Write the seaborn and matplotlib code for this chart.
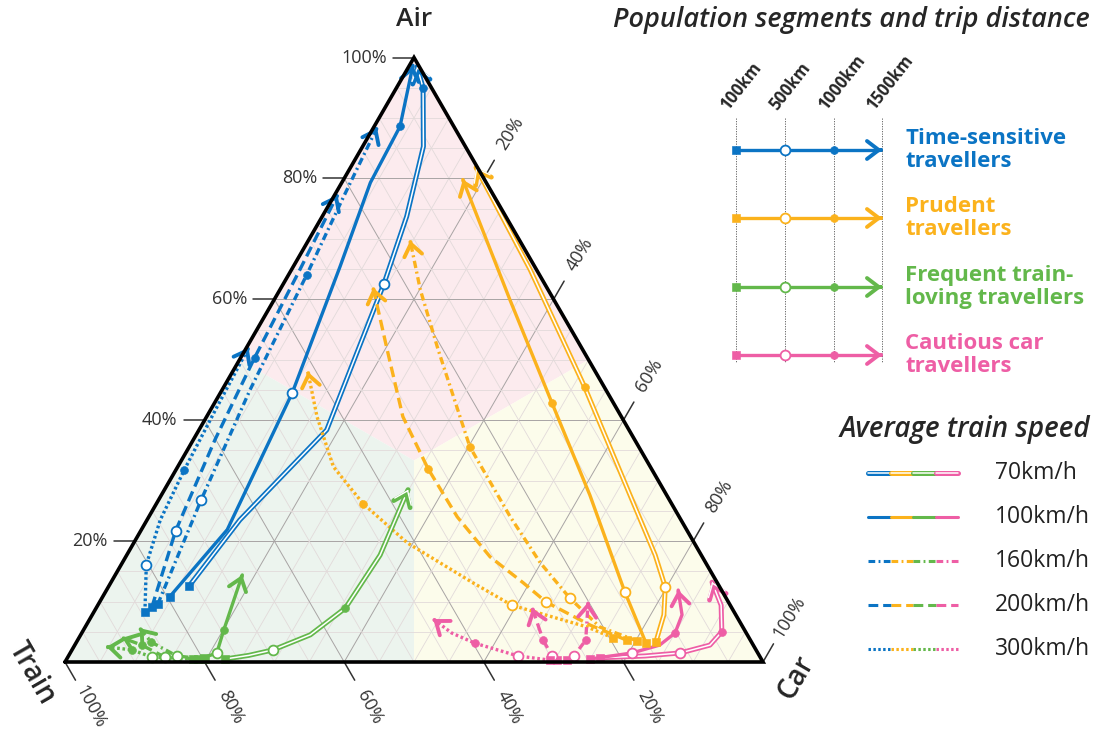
import numpy as np
import matplotlib
matplotlib.use('Agg')
import matplotlib.pyplot as plt
import seaborn as sns
from matplotlib.patches import Polygon

sns.set_theme(style='white')
plt.rcParams['font.family'] = ['Open Sans', 'DejaVu Sans']

seg_names = ['Time-sensitive\ntravellers', 'Prudent\ntravellers',
             'Frequent train-\nloving travellers', 'Cautious car\ntravellers']
seg_colors = ['#0b74c4', '#fbb21c', '#63b84b', '#ee5ea5']
speeds = ['70km/h', '100km/h', '160km/h', '200km/h', '300km/h']
distances = ['100km', '500km', '1000km', '1500km']
ticks = [20, 40, 60, 80, 100]

# paths as (air %, car %), from 100km to 1500km
# *_marks = (index of 500km point, index of 1000km point)
blue_70 = [(12.6, 11.5), (23.5, 13.3), (38.4, 18.3), (62.6, 14.4), (73.7, 12.1), (85.3, 8.7), (95.0, 3.8), (98.5, 1.2)]
blue_70_marks = (3, 6)
blue_100 = [(10.8, 9.6), (21.9, 12.3), (44.5, 10.3), (65.4, 6.7), (79.3, 4.1), (88.6, 3.7), (98.7, 0.5)]
blue_100_marks = (2, 5)
blue_160 = [(9.6, 8.5), (26.8, 6.1), (45.0, 4.0), (64.1, 2.6), (77.3, 1.4), (88.4, 0.5)]
blue_160_marks = (1, 3)
blue_200 = [(9.1, 7.9), (21.7, 5.0), (36.8, 3.1), (50.3, 2.0), (64.9, 1.2), (77.3, 0.4)]
blue_200_marks = (1, 3)
blue_300 = [(8.3, 7.3), (16.1, 3.6), (23.5, 1.9), (31.8, 1.2), (41.7, 0.7), (52.0, 0.3)]
blue_300_marks = (1, 3)

yellow_70 = [(3.3, 83.0), (7.8, 81.9), (12.4, 79.8), (17.7, 75.7), (45.5, 51.7), (64.9, 34.2), (81.8, 18.0)]
yellow_70_marks = (2, 4)
yellow_100 = [(3.1, 81.7), (11.6, 74.4), (27.6, 61.4), (42.9, 48.3), (59.9, 33.8), (79.8, 17.1)]
yellow_100_marks = (1, 3)
yellow_160 = [(3.5, 80.2), (5.8, 73.7), (10.6, 67.0), (16.4, 59.9), (24.0, 51.8), (35.6, 40.2), (51.7, 27.6), (61.6, 20.1), (69.7, 14.6)]
yellow_160_marks = (2, 5)
yellow_200 = [(3.6, 78.7), (6.1, 72.2), (9.9, 64.0), (13.1, 59.1), (17.4, 52.2), (24.0, 44.2), (32.0, 36.0), (40.6, 28.1), (51.7, 20.3), (61.9, 13.2)]
yellow_200_marks = (2, 6)
yellow_300 = [(4.0, 76.5), (5.8, 71.9), (9.4, 59.3), (13.1, 51.9), (19.7, 39.2), (26.2, 29.6), (32.3, 22.3), (40.6, 15.8), (48.0, 10.8)]
yellow_300_marks = (2, 5)

green_70 = [(0.5, 22.7), (1.1, 25.8), (2.0, 28.8), (4.5, 32.9), (8.9, 35.7), (17.7, 36.3), (28.5, 34.9)]
green_70_marks = (2, 4)
green_100 = [(0.7, 19.5), (1.5, 21.0), (5.3, 20.1), (14.4, 18.2)]
green_100_marks = (1, 2)
green_160 = [(0.5, 19.8), (1.0, 15.5), (3.3, 10.7), (5.6, 7.9)]
green_160_marks = (1, 2)
green_200 = [(0.5, 18.8), (0.8, 13.9), (2.8, 9.6), (4.0, 6.2)]
green_200_marks = (1, 2)
green_300 = [(0.5, 18.1), (0.8, 12.1), (2.0, 8.6), (2.5, 4.7)]
green_300_marks = (1, 2)

pink_70 = [(0.7, 76.3), (1.0, 82.6), (1.5, 87.4), (2.8, 91.0), (5.0, 91.6), (9.4, 89.3), (13.2, 86.1)]
pink_70_marks = (2, 4)
pink_100 = [(0.5, 75.0), (1.5, 80.5), (2.8, 83.8), (4.8, 85.0), (7.8, 84.5), (11.9, 81.9)]
pink_100_marks = (1, 3)
pink_160 = [(0.3, 71.8), (1.0, 72.4), (3.6, 72.8), (9.9, 70.0)]
pink_160_marks = (1, 2)
pink_200 = [(0.3, 70.4), (1.0, 69.3), (3.6, 66.7), (8.9, 62.5)]
pink_200_marks = (1, 2)
pink_300 = [(0.3, 69.4), (1.0, 64.4), (3.1, 57.2), (4.8, 53.0), (7.1, 49.2)]
pink_300_marks = (1, 2)

paths = [
    (0, 0, blue_70, blue_70_marks), (0, 1, blue_100, blue_100_marks), (0, 2, blue_160, blue_160_marks),
    (0, 3, blue_200, blue_200_marks), (0, 4, blue_300, blue_300_marks),
    (1, 0, yellow_70, yellow_70_marks), (1, 1, yellow_100, yellow_100_marks), (1, 2, yellow_160, yellow_160_marks),
    (1, 3, yellow_200, yellow_200_marks), (1, 4, yellow_300, yellow_300_marks),
    (2, 0, green_70, green_70_marks), (2, 1, green_100, green_100_marks), (2, 2, green_160, green_160_marks),
    (2, 3, green_200, green_200_marks), (2, 4, green_300, green_300_marks),
    (3, 0, pink_70, pink_70_marks), (3, 1, pink_100, pink_100_marks), (3, 2, pink_160, pink_160_marks),
    (3, 3, pink_200, pink_200_marks), (3, 4, pink_300, pink_300_marks),
]

styles = ['-', '-', (0, (2.2, 1.1, 0.6, 1.1)), (0, (3.2, 1.6)), (0, (0.8, 0.8))]
sq3 = np.sqrt(3) / 2
S = 698.0  # pixels per unit


def to_xy(air, car):
    air = np.asarray(air, dtype=float) / 100
    car = np.asarray(car, dtype=float) / 100
    return car + air / 2, air * sq3


def P(px, py):
    return (px - 65) / S, (662 - py) / S


def line(ax, x, y, color, k, lw=2.4, z=4):
    if k == 0:
        sns.lineplot(x=x, y=y, sort=False, estimator=None, color=color, lw=3.6, ax=ax, zorder=z)
        sns.lineplot(x=x, y=y, sort=False, estimator=None, color='white', lw=1.1, ax=ax, zorder=z)
    else:
        sns.lineplot(x=x, y=y, sort=False, estimator=None, color=color, lw=lw, linestyle=styles[k], ax=ax, zorder=z)


def arrow(ax, x0, y0, x1, y1, color, k):
    d = np.array([x1 - x0, y1 - y0])
    d = d / np.hypot(*d) * 0.002
    props = dict(arrowstyle='->,head_length=0.5,head_width=0.38', color=color, mutation_scale=17,
                 lw=3.4 if k == 0 else 2.8, shrinkA=0, shrinkB=0)
    ax.annotate('', xy=(x1, y1), xytext=(x1 - d[0], y1 - d[1]), arrowprops=props, zorder=6)
    if k == 0:
        props = dict(props, color='white', lw=1.0)
        ax.annotate('', xy=(x1, y1), xytext=(x1 - d[0], y1 - d[1]), arrowprops=props, zorder=6)


def marks(ax, xs, ys, color, z=7):
    sns.scatterplot(x=[xs[0]], y=[ys[0]], marker='s', s=30, color=color, edgecolor=color, ax=ax, zorder=z)
    sns.scatterplot(x=[xs[1]], y=[ys[1]], marker='o', s=50, color='white', edgecolor=color, linewidth=1.3, ax=ax, zorder=z)
    sns.scatterplot(x=[xs[2]], y=[ys[2]], marker='o', s=32, color=color, edgecolor=color, ax=ax, zorder=z)


fig = plt.figure(figsize=(11, 7.36), dpi=100)
ax = fig.add_axes([0, 0, 1, 1])
ax.set_xlim(-65 / S, 1035 / S)
ax.set_ylim(-74 / S, 662 / S)
ax.axis('off')

# background regions (largest share)
cen = (0.5, sq3 / 3)
mid_l, mid_r, mid_b = (0.25, sq3 / 2), (0.75, sq3 / 2), (0.5, 0)
ax.add_patch(Polygon([(0.5, sq3), mid_r, cen, mid_l], color='#fcebee', lw=0, zorder=0))
ax.add_patch(Polygon([(0, 0), mid_l, cen, mid_b], color='#ecf4ee', lw=0, zorder=0))
ax.add_patch(Polygon([(1, 0), mid_b, cen, mid_r], color='#fcfceb', lw=0, zorder=0))

# grid
for v in np.arange(5, 100, 5):
    major = v % 20 == 0
    c, w = ('#a8a4a4', 0.7) if major else ('#e2dada', 0.6)
    for a, b in [((v, 0), (v, 100 - v)), ((0, v), (100 - v, v)), ((0, 100 - v), (100 - v, 0))]:
        x, y = to_xy([a[0], b[0]], [a[1], b[1]])
        ax.plot(x, y, color=c, lw=w, zorder=1)

ax.plot([0, 1, 0.5, 0], [0, 0, sq3, 0], color='black', lw=2.6, zorder=8, solid_joinstyle='miter')

# ticks
tk = 21 / S
for t in ticks:
    v = t / 100
    # air (left)
    x, y = v / 2, v * sq3
    ax.plot([x, x - tk], [y, y], color='#333333', lw=1.1)
    ax.text(x - tk - 6 / S, y, f'{t}%', ha='right', va='center', fontsize=13, color='#333333')
    # car (right)
    x, y = v + (1 - v) / 2, (1 - v) * sq3
    ax.plot([x, x + tk * 0.5], [y, y + tk * sq3], color='#333333', lw=1.1)
    ax.text(x + 0.5 * 52 / S, y + sq3 * 52 / S, f'{t}%', ha='center', va='center', rotation=58,
            fontsize=13, color='#333333')
    # train (bottom)
    x, y = 1 - v, 0
    ax.plot([x, x + tk * 0.5], [y, y - tk * sq3], color='#333333', lw=1.1)
    ax.text(x + 0.5 * 52 / S, y - sq3 * 52 / S, f'{t}%', ha='center', va='center', rotation=-62,
            fontsize=13, color='#333333')

ax.text(*P(414, 20), 'Air', ha='center', va='center', fontsize=19, fontweight='semibold')
ax.text(*P(32, 673), 'Train', ha='center', va='center', fontsize=20, fontweight='semibold', rotation=-60)
ax.text(*P(796, 678), 'Car', ha='center', va='center', fontsize=20, fontweight='semibold', rotation=60)

# trajectories
for j, k, pts, (io, iff) in paths:
    xs, ys = to_xy([p[0] for p in pts], [p[1] for p in pts])
    c = seg_colors[j]
    line(ax, xs, ys, c, k)
    arrow(ax, xs[-2], ys[-2], xs[-1], ys[-1], c, k)
    marks(ax, [xs[0], xs[io], xs[iff]], [ys[0], ys[io], ys[iff]], c)

# legend: segments and distance
ax.text(*P(1090, 20), 'Population segments and trip distance', ha='right', va='center',
        fontsize=19.5, style='italic', fontweight='semibold')
lx = [736, 785, 834, 882]
row_y = [150, 218, 287, 355]
for px, lab in zip(lx, distances):
    ax.plot(*zip(P(px, 118), P(px, 362)), color='#555555', lw=0.6, ls=(0, (1.5, 1.5)), zorder=2)
    ax.text(*P(px - 5, 113), lab, ha='left', va='bottom', rotation=52, fontsize=12,
            fontweight='bold', rotation_mode='anchor')
for j, py in enumerate(row_y):
    c = seg_colors[j]
    (x0, y0), (x1, y1) = P(lx[0], py), P(lx[-1], py)
    ax.plot([x0, x1 - 0.004], [y0, y1], color=c, lw=2.4, zorder=4)
    arrow(ax, x0, y0, x1, y1, c, 1)
    xs = [P(px, py)[0] for px in lx[:3]]
    marks(ax, xs, [y0] * 3, c)
    ax.text(*P(905, py), seg_names[j], ha='left', va='center', fontsize=16, fontweight='bold',
            color=c, linespacing=1.1)

# legend: train speed
ax.text(*P(1090, 430), 'Average train speed', ha='right', va='center', fontsize=20, style='italic',
        fontweight='semibold')
for k, py in enumerate([473, 517, 561, 605, 649]):
    for j, c in enumerate(seg_colors):
        (x0, y0), (x1, y1) = P(868 + 22.5 * j, py), P(868 + 22.5 * (j + 1), py)
        line(ax, [x0, x1], [y0, y1], c, k, lw=2.2)
    ax.text(*P(995, py), speeds[k], ha='left', va='center', fontsize=16.5, color='#222222')

fig.savefig('out.png', dpi=100)
